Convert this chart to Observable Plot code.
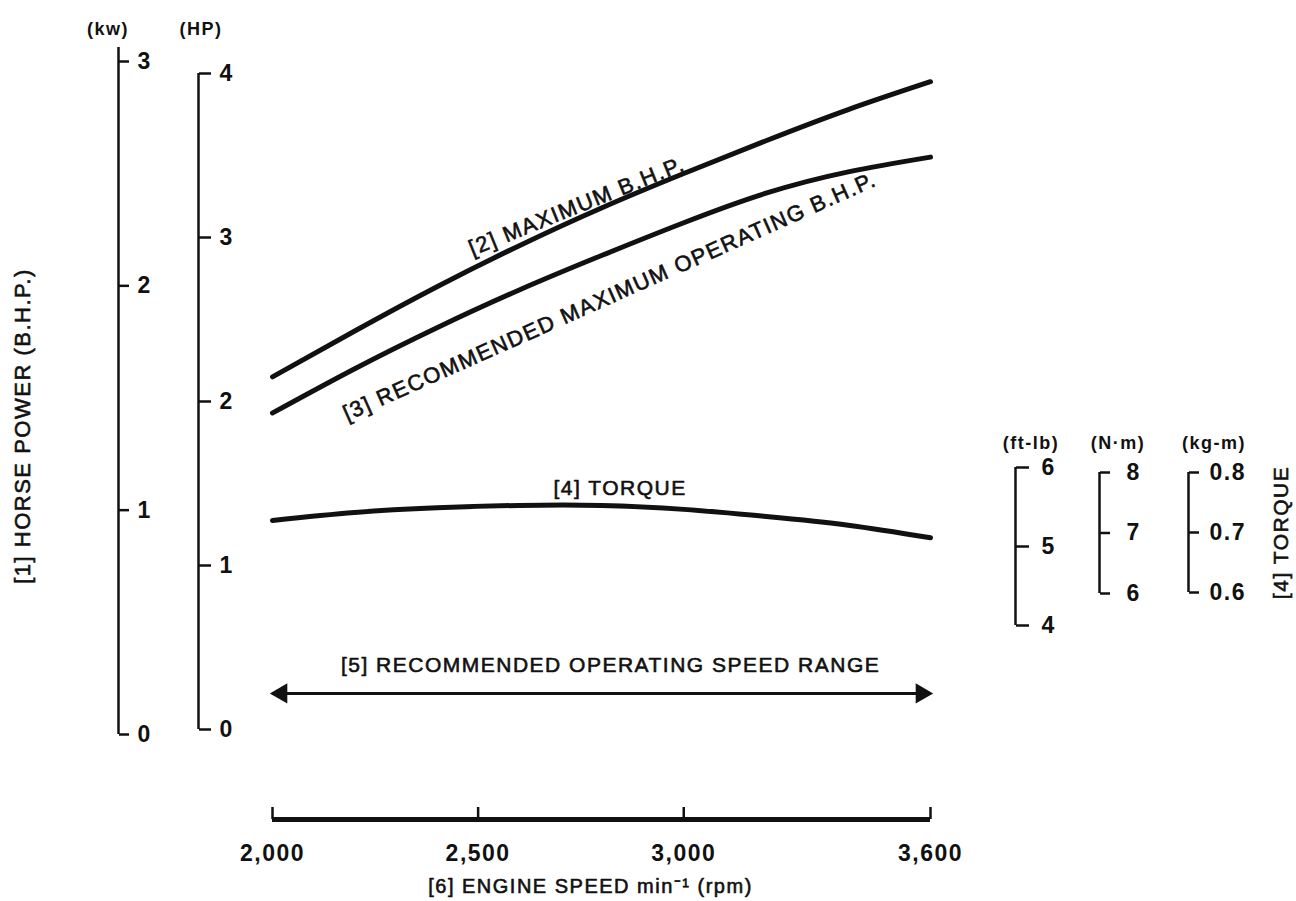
<!DOCTYPE html>
<html>
<head>
<meta charset="utf-8">
<script src="https://cdn.jsdelivr.net/npm/d3@7"></script>
<script src="https://cdn.jsdelivr.net/npm/@observablehq/plot@0.6"></script>
<style>
  html, body { margin: 0; padding: 0; background: #fff; }
  #chart { position: relative; width: 1296px; height: 901px; overflow: hidden; background: #fff; }
  #chart svg { position: absolute; left: 0; top: 0; }
  #chart svg text { letter-spacing: 1.5px; }
  #chart svg text.wide { letter-spacing: 2px; }
</style>
</head>
<body>
<div id="chart"></div>
<script>
// ---------------- data ----------------
const rpm        = [2000, 2200, 2400, 2600, 2800, 3000, 3200, 3400, 3600];
const maxBhp     = [2.15, 2.43, 2.70, 2.95, 3.18, 3.39, 3.59, 3.78, 3.95];   // HP
const recBhp     = [1.93, 2.20, 2.45, 2.68, 2.89, 3.09, 3.27, 3.40, 3.49];   // HP
const torqueFtLb = [5.33, 5.43, 5.49, 5.52, 5.52, 5.47, 5.38, 5.27, 5.11];   // ft-lb
const speedRange = [2000, 3600];
const speedArrowHp = 0.22;

const xTicks    = [2000, 2500, 3000, 3600];
const hpTicks   = [0, 1, 2, 3, 4];
const kwTicks   = [0, 1, 2, 3];
const ftlbTicks = [4, 5, 6];
const nmTicks   = [6, 7, 8];
const kgmTicks  = [0.6, 0.7, 0.8];

const curveLabels = [
  {text: "[2] MAXIMUM B.H.P.", rpm: 2740, hp: 3.19, rotate: -22},
  {text: "[3] RECOMMENDED MAXIMUM OPERATING B.H.P.", rpm: 2820, hp: 2.64, rotate: -24}
];
const flatLabels = [
  {text: "[4] TORQUE", rpm: 2845, hp: 1.47},
  {text: "[5] RECOMMENDED OPERATING SPEED RANGE", rpm: 2822, hp: 0.39}
];
const xLabel = "[6] ENGINE SPEED min\u207B\u00B9 (rpm)";
const yLabelLeft = "[1] HORSE POWER (B.H.P.)";
const yLabelRight = "[4] TORQUE";

// ---------------- layout ----------------
const W = 1296, H = 901;
const FONT = "'Liberation Sans', Arial, Helvetica, sans-serif";
const INK = "#111";
const frameL = 272, frameR = 930, hpTop = 73, hpBottom = 729;
const baseStyle = {fontFamily: FONT, fontSize: "21px", color: INK, background: "transparent", overflow: "visible"};
const ink = {fill: INK, stroke: INK, strokeWidth: 0.6};

const powerRows  = rpm.map((r, i) => ({rpm: r, max: maxBhp[i], rec: recBhp[i]}));
const torqueRows = rpm.map((r, i) => ({rpm: r, t: torqueFtLb[i]}));

const chart = document.getElementById("chart");

// main power chart (x: rpm, y: HP)
const main = Plot.plot({
  width: W, height: H,
  marginLeft: frameL, marginRight: W - frameR, marginTop: hpTop, marginBottom: H - hpBottom,
  x: {domain: [speedRange[0], speedRange[1]]},
  y: {domain: [0, 4], axis: null},
  style: baseStyle,
  marks: [
    Plot.line(powerRows, {x: "rpm", y: "max", curve: "natural", stroke: INK, strokeWidth: 5, strokeLinecap: "round"}),
    Plot.line(powerRows, {x: "rpm", y: "rec", curve: "natural", stroke: INK, strokeWidth: 5, strokeLinecap: "round"}),
    Plot.ruleY([{a: speedRange[0], b: speedRange[1], y: speedArrowHp}], {x1: "a", x2: "b", y: "y", stroke: INK, strokeWidth: 3}),
    Plot.dot([speedRange[0]], {x: d => d, y: speedArrowHp, symbol: "triangle", r: 7.5, rotate: -90, fill: INK, stroke: null, dx: 9}),
    Plot.dot([speedRange[1]], {x: d => d, y: speedArrowHp, symbol: "triangle", r: 7.5, rotate: 90, fill: INK, stroke: null, dx: -9}),
    Plot.text(curveLabels, {x: "rpm", y: "hp", text: "text", rotate: "rotate", fontSize: 22, className: "wide", ...ink}),
    Plot.text(flatLabels, {x: "rpm", y: "hp", text: "text", fontSize: 21, ...ink}),
    Plot.ruleY([0], {x1: xTicks[0], x2: xTicks[xTicks.length - 1], dy: 90, stroke: INK, strokeWidth: 5}),
    Plot.axisX(xTicks, {anchor: "bottom", dy: 78, tickSize: 12, tickPadding: 25, tickFormat: d3.format(","), fontSize: 23, fontWeight: "bold", label: null, fill: INK, stroke: INK, strokeWidth: 2.5}),
    Plot.text([xLabel], {frameAnchor: "bottom", dx: -11, dy: 163, fontSize: 20, ...ink})
  ]
});
chart.appendChild(main);

// torque curve (x: rpm, y: ft-lb)
const torquePlot = Plot.plot({
  width: W, height: H,
  marginLeft: frameL, marginRight: W - frameR, marginTop: 467, marginBottom: H - 625,
  x: {domain: [speedRange[0], speedRange[1]], axis: null},
  y: {domain: [4, 6], axis: null},
  style: baseStyle,
  marks: [
    Plot.line(torqueRows, {x: "rpm", y: "t", curve: "natural", stroke: INK, strokeWidth: 5, strokeLinecap: "round"})
  ]
});
chart.appendChild(torquePlot);

// side axes, each with its own y scale
function sideAxis(o) {
  return Plot.plot({
    width: W, height: H,
    marginLeft: o.at, marginRight: W - o.at - 1, marginTop: o.top, marginBottom: H - o.bottom,
    x: {domain: [0, 1], axis: null},
    y: {domain: o.domain, axis: null},
    style: baseStyle,
    marks: [
      Plot.ruleX([0], {y1: o.domain[1], y2: o.domain[0], stroke: INK, strokeWidth: 2.5, insetTop: -(o.extendTop || 0)}),
      Plot.axisY(o.ticks, {anchor: "right", dx: -1, tickSize: o.tickSize, tickPadding: o.pad, tickFormat: o.format || d3.format("d"), fontSize: 23, fontWeight: "bold", label: null, fill: INK, stroke: INK, strokeWidth: 2.5}),
      Plot.text([o.unit], {frameAnchor: "top", dx: o.unitDx, dy: o.unitDy, fontSize: 18, fontWeight: "bold", fill: INK}),
      ...(o.extra || [])
    ]
  });
}

chart.appendChild(sideAxis({
  at: 118, top: 61, bottom: 734, domain: [0, 3], ticks: kwTicks, tickSize: 10, pad: 9, extendTop: 14,
  unit: "(kw)", unitDx: -11, unitDy: -39,
  extra: [Plot.text([yLabelLeft], {frameAnchor: "middle", dx: -96, dy: 28, rotate: -90, fontSize: 22, className: "wide", ...ink})]
}));
chart.appendChild(sideAxis({
  at: 198, top: hpTop, bottom: hpBottom, domain: [0, 4], ticks: hpTicks, tickSize: 12, pad: 9,
  unit: "(HP)", unitDx: 2, unitDy: -51
}));
chart.appendChild(sideAxis({
  at: 1015, top: 467, bottom: 625, domain: [4, 6], ticks: ftlbTicks, tickSize: 13, pad: 13,
  unit: "(ft-lb)", unitDx: 15, unitDy: -31
}));
chart.appendChild(sideAxis({
  at: 1099, top: 472, bottom: 593, domain: [6, 8], ticks: nmTicks, tickSize: 10, pad: 17,
  unit: "(N\u00B7m)", unitDx: 18, unitDy: -36
}));
chart.appendChild(sideAxis({
  at: 1188, top: 472, bottom: 592, domain: [0.6, 0.8], ticks: kgmTicks, tickSize: 10, pad: 11, format: d3.format(".1f"),
  unit: "(kg-m)", unitDx: 25, unitDy: -36,
  extra: [Plot.text([yLabelRight], {frameAnchor: "middle", dx: 92, rotate: -90, fontSize: 21, ...ink})]
}));

// axis tick labels: no glyph outline (bold weight carries the print look)
chart.querySelectorAll("g[aria-label$='tick label']").forEach(g => {
  g.setAttribute("stroke", "none");
  g.querySelectorAll("text").forEach(t => t.setAttribute("stroke", "none"));
});
</script>
</body>
</html>
